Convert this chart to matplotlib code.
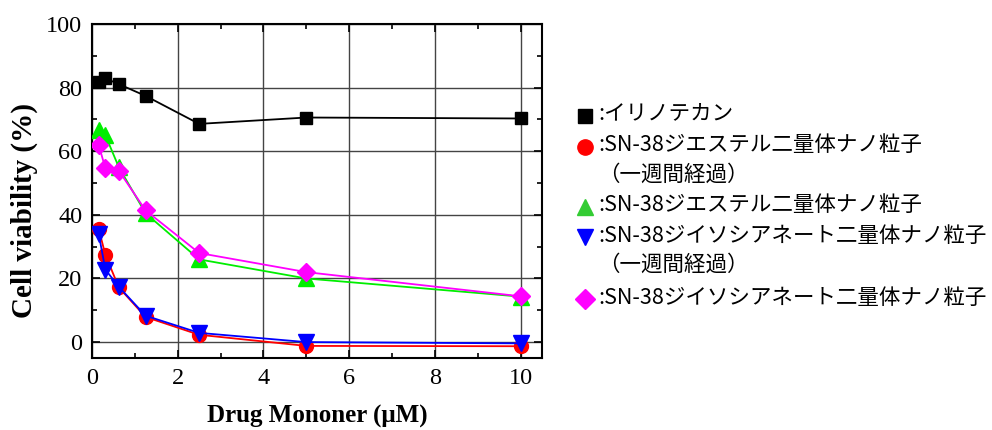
import matplotlib
matplotlib.use("Agg")
import matplotlib.pyplot as plt
from matplotlib.lines import Line2D
from matplotlib.ticker import MultipleLocator

# ---- data ----
conc = [0.156, 0.3125, 0.625, 1.25, 2.5, 5, 10]
irinotecan = [81.9, 82.9, 81.1, 77.4, 68.6, 70.6, 70.3]
ester_week = [35.6, 27.4, 17.2, 7.9, 2.3, -1.2, -1.3]
ester = [66.6, 65.0, 55.0, 40.5, 26.0, 20.0, 14.3]
isocyanate_week = [34.0, 22.8, 17.4, 8.3, 2.9, 0.0, -0.4]
isocyanate = [62.0, 54.6, 53.9, 41.4, 28.0, 22.0, 14.4]

labels = [
    ":イリノテカン",
    ":SN-38ジエステル二量体ナノ粒子\n（一週間経過）",
    ":SN-38ジエステル二量体ナノ粒子",
    ":SN-38ジイソシアネート二量体ナノ粒子\n（一週間経過）",
    ":SN-38ジイソシアネート二量体ナノ粒子",
]
xticks = [0, 2, 4, 6, 8, 10]
yticks = [0, 20, 40, 60, 80, 100]

serif = ["Liberation Serif", "DejaVu Serif"]
cjk = ["Noto Sans CJK JP", "DejaVu Sans"]
plt.rcParams["font.family"] = serif

W, H = 992, 430
fig = plt.figure(figsize=(W / 100, H / 100), dpi=100)
ax = fig.add_axes([92 / W, 1 - 358 / H, 450 / W, 334 / H])

series = [
    (irinotecan, "black", "s", 9, "black"),
    (ester_week, "#ff0000", "o", 10, "#ff0000"),
    (ester, "#00ee00", "^", 11, "#33cc33"),
    (isocyanate_week, "#0000ff", "v", 11, "#0000ff"),
    (isocyanate, "#ff00ff", "D", 9, "#ff00ff"),
]
for vals, col, mk, ms, _ in series:
    ax.plot(conc, vals, color=col, marker=mk, markersize=ms, lw=1.3,
            markeredgecolor=col, zorder=3)

ax.set_xlim(0, 10.5)
ax.set_ylim(-5, 100)
ax.set_xticks(xticks)
ax.set_yticks(yticks)
ax.xaxis.set_minor_locator(MultipleLocator(1))
ax.yaxis.set_minor_locator(MultipleLocator(10))
ax.tick_params(which="both", direction="in", top=True, right=True, width=1.2)
ax.tick_params(which="major", length=6, pad=7, labelsize=17.5)
ax.tick_params(which="minor", length=3.5)
ax.grid(True, which="major", color="#444444", lw=1.0, zorder=0)
for sp in ax.spines.values():
    sp.set_linewidth(1.5)

ax.set_xlabel("Drug Mononer (μM)", fontsize=18, fontweight="bold")
ax.xaxis.set_label_coords((317 - 92) / 450, (358 - 405) / 334)
ax.set_ylabel("Cell viability (%)", fontsize=21, fontweight="bold",
              va="center")
ax.yaxis.set_label_coords((24 - 92) / 450, (358 - 210) / 334)

# ---- manual legend ----
ys = [115.7, 146.7, 206.7, 237, 299]
for (vals, col, mk, ms, lcol), lab, y in zip(series, labels, ys):
    fig.add_artist(Line2D([585 / W], [1 - y / H], transform=fig.transFigure,
                          marker=mk, color=lcol, markersize=ms + 1,
                          linestyle="none"))
    fig.text(598 / W, 1 - (y - 12.5) / H, lab, family=cjk, fontsize=15.5,
             va="top", ha="left", linespacing=1.42,
             transform=fig.transFigure)

fig.savefig("out.png", dpi=100)
